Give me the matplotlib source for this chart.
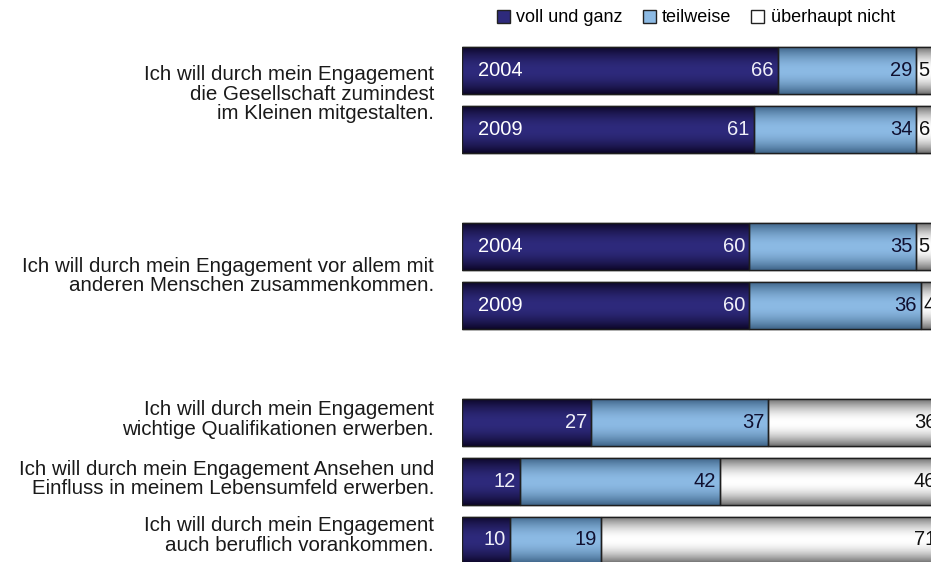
import numpy as np
import matplotlib
matplotlib.use("Agg")
import matplotlib.pyplot as plt
from matplotlib.patches import Rectangle
from matplotlib.colors import to_rgb
from matplotlib.transforms import blended_transform_factory

plt.rcParams['font.family'] = ['Liberation Sans', 'DejaVu Sans']

# ---- data ----
series = ["voll und ganz", "teilweise", "überhaupt nicht"]
voll = [66, 61, 60, 60, 27, 12, 10]
teil = [29, 34, 35, 36, 37, 42, 19]
nicht = [5, 6, 5, 4, 36, 46, 71]
years = ["2004", "2009", "2004", "2009", "", "", ""]
slots = [0, 1, 3, 4, 6, 7, 8]
statements = [
    "Ich will durch mein Engagement\ndie Gesellschaft zumindest\nim Kleinen mitgestalten.",
    "Ich will durch mein Engagement vor allem mit\nanderen Menschen zusammenkommen.",
    "Ich will durch mein Engagement\nwichtige Qualifikationen erwerben.",
    "Ich will durch mein Engagement Ansehen und\nEinfluss in meinem Lebensumfeld erwerben.",
    "Ich will durch mein Engagement\nauch beruflich vorankommen.",
]
statement_pos = [0.40, 3.50, 5.95, 6.96, 7.92]

# ---- style ----
centre_cols = ["#2e2a7c", "#8cbae4", "#ffffff"]
edge_cols = ["#0c0628", "#3e6488", "#6e6e6e"]
label_cols = ["#f0f0f8", "#101030", "#111111"]

W, H = 931, 562
fig = plt.figure(figsize=(W / 100, H / 100), dpi=100)
x0 = 462.3 / W
x1 = 940.3 / W
ax = fig.add_axes([x0, 0, x1 - x0, 1])
top_slot = -70.7 / 58.66
bot_slot = (H - 70.7) / 58.66
ax.axis("off")

bh = 0.8
t = np.linspace(0, 1, 80)
prof = np.sin(np.pi * t) ** 0.9

lefts = [
    [0] * len(voll),
    voll,
    [a + b for a, b in zip(voll, teil)],
]
vals = [voll, teil, nicht]
containers = []
for k in range(3):
    c = ax.barh(slots, vals[k], left=lefts[k], height=bh, color=centre_cols[k],
                edgecolor="#222222", linewidth=1.0, label=series[k], zorder=2)
    containers.append(c)
    ce = np.array(to_rgb(centre_cols[k]))
    ed = np.array(to_rgb(edge_cols[k]))
    img = ed[None, :] + (ce - ed)[None, :] * prof[:, None]
    img = img[:, None, :]
    for rect in c.patches:
        x, y = rect.get_x(), rect.get_y()
        w, h = rect.get_width(), rect.get_height()
        im = ax.imshow(img, extent=(x, x + w, y + h, y), aspect="auto",
                       interpolation="bilinear", zorder=2.5)
        im.set_clip_path(rect)
        ax.add_patch(Rectangle((x, y), w, h, fill=False, edgecolor="#1e1e1e",
                               linewidth=1.0, zorder=3))

ax.set_xlim(0, 100)
ax.set_ylim(bot_slot, top_slot)

fs = 14.5
for i, s in enumerate(slots):
    if years[i]:
        ax.text(3.2, s, years[i], color="white", fontsize=fs, va="center",
                ha="left", zorder=5)
    for k in range(3):
        v = vals[k][i]
        l = lefts[k][i]
        if v < 10 and k == 2:
            ax.text(l + 0.45, s, str(v), color=label_cols[k], fontsize=fs,
                    va="center", ha="left", zorder=5)
        else:
            ax.text(l + v - 0.85, s, str(v), color=label_cols[k], fontsize=fs,
                    va="center", ha="right", zorder=5)

tr = blended_transform_factory(fig.transFigure, ax.transData)
for txt, p in zip(statements, statement_pos):
    ax.text(434 / W, p, txt, transform=tr, ha="right", va="center",
            multialignment="right", fontsize=14.8, color="#1a1a1a",
            linespacing=1.05)

fig.legend(handles=containers, labels=series, loc="center left",
           bbox_to_anchor=(497 / W, 1 - 18 / H), ncol=3, frameon=False,
           fontsize=13, handlelength=0.72, handleheight=0.72,
           handletextpad=0.35, columnspacing=1.1, borderpad=0,
           borderaxespad=0)

fig.savefig("out.png", dpi=100)
